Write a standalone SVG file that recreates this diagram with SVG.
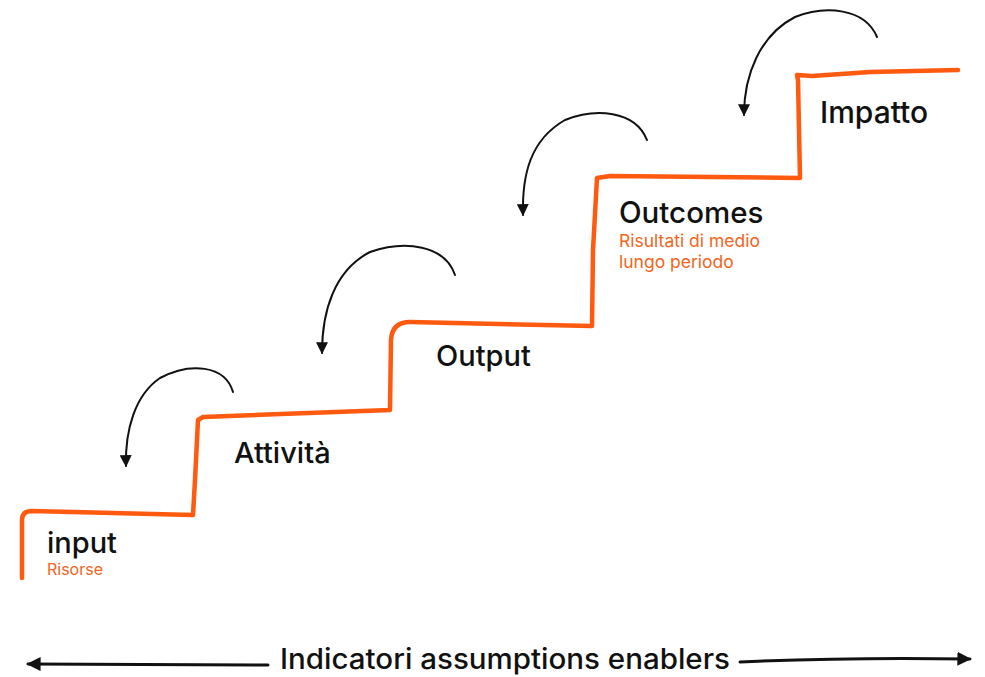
<svg xmlns="http://www.w3.org/2000/svg" width="985" height="677" viewBox="0 0 985 677">
<style>
.stair{fill:none;stroke:#FF5A0F;stroke-width:4.5;stroke-linecap:round;stroke-linejoin:round}
.arc{fill:none;stroke:#111;stroke-width:2;stroke-linecap:round}
.t{font-family:Inter,"Noto Sans",sans-serif;font-weight:500;fill:#111}
.s{font-family:Inter,"Noto Sans",sans-serif;fill:#F26522}
.line{fill:none;stroke:#111;stroke-width:3;stroke-linecap:round}
</style>
<defs>
<marker id="ah" viewBox="0 0 10 10" refX="9" refY="5" markerWidth="12" markerHeight="12" markerUnits="userSpaceOnUse" orient="auto">
<path d="M0,0 L10,5 L0,10 Z" fill="#111"/>
</marker>
<marker id="ah2" viewBox="0 0 10 10" refX="9" refY="5" markerWidth="14" markerHeight="14" markerUnits="userSpaceOnUse" orient="auto">
<path d="M0,0 L10,5 L0,10 Z" fill="#111"/>
</marker>
</defs>
<rect width="985" height="677" fill="#fff"/>
<g id="staircase">
<path class="stair" d="M22,578 L22,520 Q22,511 32,511 L193,515 L195,480 L198,420 L203,417 L390,410 L391,340 Q392,322 410,322 L592,326 L593,250 L597,178 L610,176 L800,178 L798,80 L797,75 L812,76 L870,72 L958,70"/>
</g>
<g id="connectors">
<path class="arc" d="M233,392 C225,365 190,362 160,378 C135,395 125,430 126,466" marker-end="url(#ah)"/>
<path class="arc" d="M455,275 C445,245 405,240 370,252 C335,270 322,310 322,353" marker-end="url(#ah)"/>
<path class="arc" d="M647,140 C635,110 595,108 565,120 C530,140 522,175 523,215" marker-end="url(#ah)"/>
<path class="arc" d="M877,37 C865,8 825,5 795,17 C760,35 744,75 744,115" marker-end="url(#ah)"/>
<path class="line" d="M268,665 L28,664" marker-end="url(#ah2)"/>
<path class="line" d="M740,662 Q850,657 970,659" marker-end="url(#ah2)"/>
</g>
<g id="input">
<text class="t" x="47" y="553" font-size="29">input</text>
<text class="s" x="47" y="575" font-size="16">Risorse</text>
</g>
<g id="attivita">
<text class="t" x="234" y="463" font-size="29">Attività</text>
</g>
<g id="output">
<text class="t" x="436" y="366" font-size="29">Output</text>
</g>
<g id="outcomes">
<text class="t" x="619" y="223" font-size="29.5">Outcomes</text>
<text class="s" x="619" y="247" font-size="17.5">Risultati di medio</text>
<text class="s" x="619" y="268" font-size="17.5">lungo periodo</text>
</g>
<g id="impatto">
<text class="t" x="820" y="123" font-size="30">Impatto</text>
</g>
<g id="bottom">
<text class="t" x="280" y="669" font-size="28" textLength="450" lengthAdjust="spacingAndGlyphs">Indicatori assumptions enablers</text>
</g>
</svg>
